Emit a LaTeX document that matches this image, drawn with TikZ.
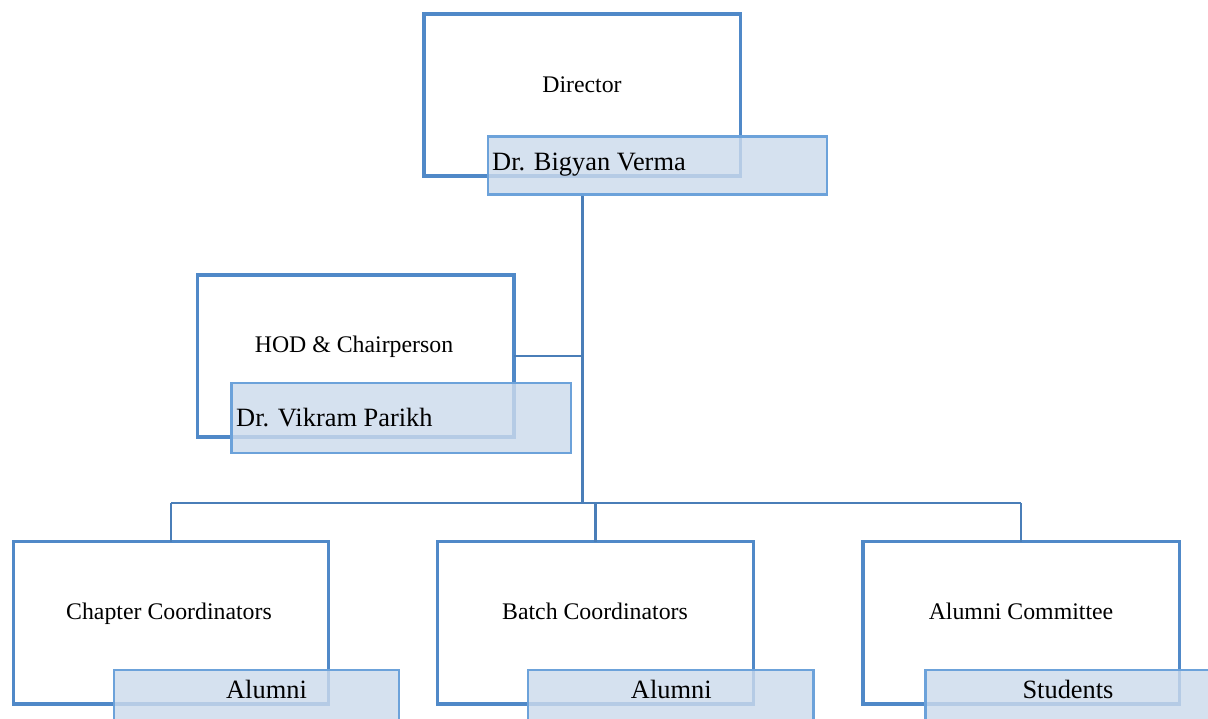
\documentclass[tikz,border=0pt]{standalone}
\usepackage{fontspec}
\setmainfont{Liberation Serif}
\definecolor{boxline}{HTML}{5089C8}
\definecolor{nameline}{HTML}{6CA2DA}
\definecolor{namefill}{HTML}{CCDAEC}
\definecolor{conn}{HTML}{4A7EB8}
\begin{document}
\begin{tikzpicture}[x=1pt,y=-1pt,
  rolebox/.style={draw=boxline,line width=3.4pt,rectangle,inner sep=0pt,outer sep=0pt},
  namebox/.style={draw=nameline,line width=2.4pt,fill=namefill,fill opacity=0.82,rectangle,inner sep=0pt,outer sep=0pt},
  roletext/.style={font=\fontsize{23.8}{28}\selectfont,inner sep=0pt,anchor=base},
  nametext/.style={font=\fontsize{26.4}{31}\selectfont,inner sep=0pt},
  trunkline/.style={draw=conn,line width=3.2pt},
  branchline/.style={draw=conn,line width=2.2pt}]
\useasboundingbox (0,0) rectangle (1208,718);
\clip (0,0) rectangle (1208,718);
% role boxes
\node[rolebox,minimum width=316.5pt,minimum height=162pt] (dir) at (582.25,95) {};
\node[rolebox,minimum width=316.3pt,minimum height=162pt] (hod) at (355.85,356) {};
\node[rolebox,minimum width=315pt,minimum height=162.3pt] (chap) at (171.2,622.85) {};
\node[rolebox,minimum width=315.6pt,minimum height=162.3pt] (batch) at (595.5,622.85) {};
\node[rolebox,minimum width=316.3pt,minimum height=162.3pt] (comm) at (1021.15,622.85) {};
% connectors
\coordinate (trunk) at (582.5,503);
\draw[trunkline] (trunk |- 0,194.5) -- (trunk);
\draw[branchline] (hod.east) -- (hod.east -| trunk);
\draw[branchline] (chap.north |- trunk) -- (comm.north |- trunk);
\draw[branchline] (chap.north |- trunk) -- (chap.north);
\draw[branchline] (batch.north |- trunk) -- (batch.north);
\draw[branchline] (comm.north |- trunk) -- (comm.north);
% role texts
\node[roletext] (tdir) at (582,92.7) {Director};
\node[roletext] (thod) at (354,352.7) {HOD \& Chairperson};
\node[roletext] (tchap) at (169,619.3) {Chapter Coordinators};
\node[roletext] (tbatch) at (595,619.3) {Batch Coordinators};
\node[roletext] (tcomm) at (1021,619.3) {Alumni Committee};
% name boxes
\node[namebox,minimum width=339pt,minimum height=58pt] (ndir) at (657.5,165.5) {};
\node[namebox,minimum width=339.4pt,minimum height=70pt] (nhod) at (401,418) {};
\node[namebox,minimum width=284.7pt,minimum height=100pt] (nchap) at (256.35,719.7) {};
\node[namebox,minimum width=285.3pt,minimum height=100pt] (nbatch) at (670.65,719.7) {};
\node[namebox,minimum width=300pt,minimum height=100pt] (ncomm) at (1075.3,719.7) {};
% name texts
\node[nametext,anchor=base west] (tndir) at (492,170) {Dr. Bigyan Verma};
\node[nametext,anchor=base west] (tnhod) at (236,426) {Dr. Vikram Parikh};
\node[nametext,anchor=base] (tnchap) at (266.5,698) {Alumni};
\node[nametext,anchor=base] (tnbatch) at (671.3,698) {Alumni};
\node[nametext,anchor=base] (tncomm) at (1068,698) {Students};
\end{tikzpicture}
\end{document}
